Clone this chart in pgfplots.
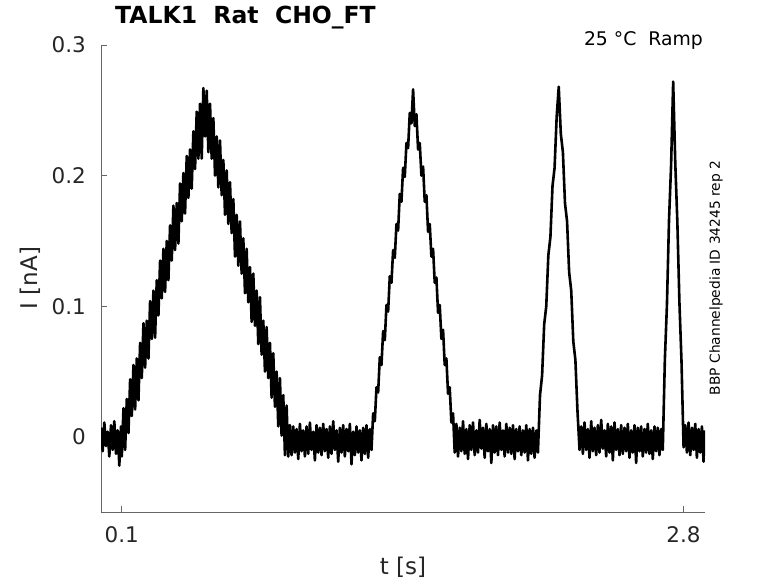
\documentclass[border=0pt]{standalone}
\usepackage{pgfplots}
\usepackage{pgfplotstable}
\pgfplotsset{compat=1.18}
\usepackage{fontspec}
\setmainfont{DejaVu Sans}
\definecolor{axgray}{rgb}{0.40,0.40,0.40}
\definecolor{txtgray}{rgb}{0.15,0.15,0.15}
\pgfplotstableread{
t y
0.000 0.007
0.008 -0.011
0.016 0.011
0.024 -0.007
0.032 0.004
0.040 -0.015
0.048 0.009
0.056 -0.010
0.064 0.012
0.072 -0.013
0.080 0.005
0.088 -0.022
0.096 0.008
0.100 -0.015
0.108 0.022
0.116 -0.010
0.124 0.029
0.132 0.003
0.140 0.044
0.148 0.016
0.156 0.055
0.164 0.021
0.172 0.060
0.180 0.028
0.188 0.072
0.196 0.045
0.204 0.087
0.212 0.053
0.220 0.089
0.228 0.060
0.236 0.104
0.244 0.075
0.252 0.112
0.260 0.076
0.268 0.120
0.276 0.093
0.284 0.135
0.292 0.106
0.300 0.144
0.308 0.111
0.316 0.150
0.324 0.120
0.332 0.162
0.340 0.135
0.348 0.177
0.356 0.143
0.364 0.179
0.372 0.148
0.380 0.194
0.388 0.165
0.396 0.202
0.404 0.171
0.412 0.215
0.420 0.183
0.428 0.220
0.436 0.190
0.444 0.234
0.452 0.205
0.460 0.249
0.468 0.213
0.476 0.255
0.484 0.213
0.492 0.267
0.500 0.230
0.508 0.265
0.516 0.218
0.524 0.255
0.532 0.213
0.540 0.244
0.548 0.200
0.556 0.230
0.564 0.191
0.572 0.227
0.580 0.185
0.588 0.212
0.596 0.170
0.604 0.204
0.612 0.163
0.620 0.195
0.628 0.156
0.636 0.182
0.644 0.138
0.652 0.170
0.660 0.131
0.668 0.165
0.676 0.125
0.684 0.152
0.692 0.110
0.700 0.144
0.708 0.103
0.716 0.130
0.724 0.088
0.732 0.125
0.740 0.085
0.748 0.112
0.756 0.071
0.764 0.107
0.772 0.063
0.780 0.089
0.788 0.050
0.796 0.084
0.804 0.045
0.812 0.072
0.820 0.030
0.828 0.064
0.836 0.023
0.844 0.050
0.852 0.008
0.860 0.045
0.868 0.001
0.876 0.032
0.884 -0.014
0.892 0.024
0.900 -0.015
0.908 0.009
0.916 -0.014
0.924 0.008
0.932 -0.012
0.940 0.006
0.948 -0.017
0.956 0.010
0.964 -0.011
0.972 0.005
0.980 -0.015
0.988 0.008
0.996 -0.013
1.004 0.011
1.012 -0.010
1.020 0.004
1.028 -0.018
1.036 0.009
1.044 -0.012
1.052 0.007
1.060 -0.014
1.068 0.010
1.076 -0.011
1.084 0.006
1.092 -0.016
1.100 0.008
1.108 -0.013
1.116 0.012
1.124 -0.010
1.132 0.005
1.140 -0.019
1.148 0.007
1.156 -0.012
1.164 0.009
1.172 -0.015
1.180 0.006
1.188 -0.011
1.196 0.010
1.204 -0.021
1.212 0.004
1.220 -0.014
1.228 0.008
1.236 -0.012
1.244 0.005
1.252 -0.018
1.260 0.007
1.268 -0.013
1.276 0.009
1.284 -0.016
1.292 0.006
1.300 -0.010
1.308 0.018
1.316 0.012
1.324 0.038
1.332 0.034
1.340 0.061
1.348 0.055
1.356 0.081
1.364 0.074
1.372 0.101
1.380 0.096
1.388 0.123
1.396 0.118
1.404 0.143
1.412 0.137
1.420 0.163
1.428 0.158
1.436 0.186
1.444 0.180
1.452 0.206
1.460 0.199
1.468 0.225
1.476 0.221
1.484 0.248
1.492 0.240
1.500 0.266
1.508 0.238
1.516 0.247
1.524 0.220
1.532 0.225
1.540 0.200
1.548 0.207
1.556 0.180
1.564 0.185
1.572 0.157
1.580 0.163
1.588 0.138
1.596 0.144
1.604 0.118
1.612 0.122
1.620 0.095
1.628 0.101
1.636 0.075
1.644 0.082
1.652 0.055
1.660 0.060
1.668 0.033
1.676 0.038
1.684 0.011
1.692 0.018
1.700 -0.012
1.708 0.010
1.716 -0.015
1.724 0.007
1.732 -0.011
1.740 0.012
1.748 -0.013
1.756 0.006
1.764 -0.017
1.772 0.009
1.780 -0.010
1.788 0.011
1.796 -0.014
1.804 0.005
1.812 -0.012
1.820 0.013
1.828 -0.009
1.836 0.007
1.844 -0.016
1.852 0.010
1.860 -0.011
1.868 0.006
1.876 -0.020
1.884 0.009
1.892 -0.012
1.900 0.008
1.908 -0.014
1.916 0.011
1.924 -0.010
1.932 0.005
1.940 -0.015
1.948 0.010
1.956 -0.012
1.964 0.007
1.972 -0.013
1.980 0.009
1.988 -0.017
1.996 0.006
2.004 -0.011
2.012 0.008
2.020 -0.014
2.028 0.005
2.036 -0.012
2.044 0.009
2.052 -0.018
2.060 0.006
2.068 -0.013
2.076 0.007
2.084 -0.016
2.092 0.005
2.100 -0.012
2.110 0.032
2.120 0.047
2.130 0.086
2.140 0.100
2.150 0.139
2.160 0.153
2.170 0.192
2.180 0.206
2.190 0.245
2.200 0.268
2.210 0.232
2.220 0.218
2.230 0.179
2.240 0.165
2.250 0.126
2.260 0.112
2.270 0.073
2.280 0.059
2.290 0.020
2.300 -0.010
2.308 0.008
2.316 -0.013
2.324 0.011
2.332 -0.010
2.340 0.006
2.348 -0.016
2.356 0.012
2.364 -0.011
2.372 0.007
2.380 -0.014
2.388 0.009
2.396 -0.012
2.404 0.013
2.412 -0.009
2.420 0.005
2.428 -0.015
2.436 0.010
2.444 -0.012
2.452 0.008
2.460 -0.018
2.468 0.011
2.476 -0.010
2.484 0.006
2.492 -0.014
2.500 0.009
2.508 -0.013
2.516 0.007
2.524 -0.011
2.532 0.010
2.540 -0.016
2.548 0.005
2.556 -0.012
2.564 0.009
2.572 -0.020
2.580 0.007
2.588 -0.011
2.596 0.008
2.604 -0.015
2.612 0.006
2.620 -0.012
2.628 0.010
2.636 -0.013
2.644 0.005
2.652 -0.017
2.660 0.008
2.668 -0.011
2.676 0.007
2.684 -0.014
2.692 0.006
2.700 -0.010
2.710 0.059
2.720 0.101
2.730 0.166
2.740 0.208
2.750 0.272
2.760 0.210
2.770 0.165
2.780 0.103
2.790 0.058
2.800 -0.008
2.808 0.009
2.816 -0.012
2.824 0.011
2.832 -0.014
2.840 0.007
2.848 -0.010
2.856 0.010
2.864 -0.016
2.872 0.006
2.880 -0.012
2.888 0.008
2.896 -0.019
2.900 0.005
}\tracedata
\begin{document}
\begin{tikzpicture}
\path[use as bounding box] (0,0) rectangle (778pt,583pt);
\begin{axis}[
  at={(101pt,71pt)}, anchor=south west,
  scale only axis, width=604pt, height=467pt,
  xmin=0, xmax=2.903, ymin=-0.0575, ymax=0.3,
  axis x line*=bottom, axis y line*=left,
  axis line style={axgray, line width=0.8pt, -},
  tick align=inside, major tick length=6pt,
  tick style={axgray, line width=0.8pt},
  xtick={0.1,2.8}, ytick={0,0.1,0.2,0.3},
  xticklabels={0.1,2.8}, yticklabels={0,0.1,0.2,0.3},
  every tick label/.append style={inner sep=0pt, text=txtgray, font=\fontsize{21.5}{24}\selectfont},
  yticklabel style={xshift=-15pt},
  xticklabel style={yshift=-14pt, anchor=north},
  clip=true,
]
\addplot[black, line width=2.6pt, line join=round] table[x=t, y=y] {\tracedata};
\end{axis}
\node[anchor=west, font=\fontsize{23.5}{27}\selectfont\bfseries, inner sep=0pt] at (115pt,565pt) {TALK1\ \ Rat\ \ CHO\_FT};
\node[anchor=east, font=\fontsize{18.8}{22}\selectfont, inner sep=0pt] at (703pt,543pt) {25 °C\ \ Ramp};
\node[rotate=90, font=\fontsize{13.8}{16}\selectfont, inner sep=0pt] at (716pt,305pt) {BBP Channelpedia ID 34245 rep 2};
\node[rotate=90, font=\fontsize{23}{26}\selectfont, text=txtgray, inner sep=0pt] at (30pt,305pt) {I [nA]};
\node[font=\fontsize{23}{26}\selectfont, text=txtgray, inner sep=0pt] at (403pt,16pt) {t [s]};
\end{tikzpicture}
\end{document}
